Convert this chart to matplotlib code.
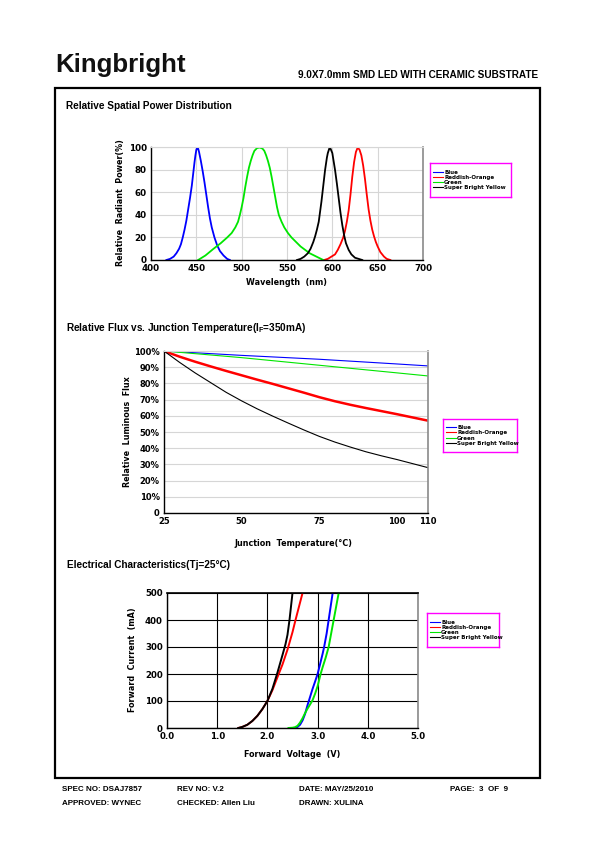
import matplotlib
matplotlib.use("Agg")
import matplotlib.pyplot as plt
from matplotlib.patches import Rectangle

W, H = 595, 842

# series (legend order)
series_names = ["Blue", "Reddish-Orange", "Green", "Super Bright Yellow"]
series_colors = ["#0000ff", "#ff0000", "#00e600", "#000000"]

# relative spatial power distribution: wavelength (nm) / relative power (%)
blue_wl = [417, 421, 425, 428, 431, 433, 435, 437, 439, 441, 443, 445, 446, 447, 448, 449, 450, 451,
           452, 453, 455, 457, 459, 461, 463, 465, 467, 470, 473, 476, 480, 484, 487]
blue_pw = [0, 1, 3, 6, 10, 14, 20, 27, 35, 45, 55, 66, 73, 80, 87, 93, 98, 100,
           99, 96, 88, 79, 69, 58, 47, 37, 29, 20, 13, 8, 4, 1, 0]
red_wl = [591, 595, 599, 603, 606, 609, 612, 614, 616, 618, 620, 622, 624, 626, 628,
          630, 632, 634, 636, 638, 640, 642, 644, 646, 648, 650, 653, 657, 660, 664]
red_pw = [0, 1, 3, 5, 9, 14, 20, 26, 34, 44, 58, 74, 87, 96, 100,
          98, 93, 84, 72, 58, 45, 35, 27, 21, 16, 12, 7, 3, 1, 0]
green_wl = [452, 460, 469, 477, 484, 489, 493, 496, 498, 500, 502, 504, 506, 508, 510, 512, 514, 517, 520,
            523, 525, 527, 529, 531, 533, 535, 537, 539, 541, 544, 547, 551, 555, 560, 565, 570, 575, 580, 585, 590]
green_pw = [0, 4, 10, 15, 20, 24, 29, 34, 40, 47, 55, 65, 74, 82, 88, 93, 97, 99.5, 100,
            99, 97, 93, 88, 82, 74, 65, 56, 47, 40, 34, 29, 24, 20, 16, 12, 9, 6, 4, 2, 0]
yellow_wl = [561, 565, 569, 573, 576, 579, 581, 583, 585, 586, 588, 590, 592, 594, 595, 597,
             598, 600, 601, 603, 605, 607, 609, 611, 613, 615, 618, 621, 625, 629, 633]
yellow_pw = [0, 1, 3, 6, 10, 16, 21, 27, 34, 40, 52, 66, 80, 91, 95, 100,
             99, 95, 90, 80, 68, 55, 42, 31, 22, 15, 9, 5, 2, 1, 0]

# relative flux vs junction temperature (deg C / %)
blue_tj = [25, 50, 75, 100, 110]
blue_flux = [100, 97.3, 94.9, 92.0, 90.8]
red_tj = [25, 30, 35, 40, 45, 50, 55, 60, 65, 70, 75, 80, 85, 90, 95, 100, 105, 110]
red_flux = [100, 96.5, 93.4, 90.5, 87.7, 85, 82.3, 79.7, 77, 74.3, 71.5, 69, 66.8, 64.8, 62.9, 61, 59, 57]
green_tj = [25, 50, 75, 100, 110]
green_flux = [100, 95.9, 91.2, 86.5, 84.6]
yellow_tj = [25, 30, 35, 40, 45, 50, 55, 60, 65, 70, 75, 80, 85, 90, 95, 100, 105, 110]
yellow_flux = [100, 93, 86.5, 80.5, 74.5, 69.2, 64.3, 59.8, 55.5, 51.3, 47.3, 43.8, 40.7, 37.8, 35.3, 33, 30.5, 28]

# forward current vs forward voltage (V / mA)
blue_vf = [2.55, 2.6, 2.65, 2.7, 2.75, 2.8, 2.85, 2.9, 2.95, 3.0, 3.05, 3.1, 3.13, 3.18, 3.22, 3.26, 3.30]
blue_if = [0, 4, 12, 28, 52, 85, 115, 145, 172, 200, 237, 275, 300, 350, 400, 450, 500]
red_vf = [1.42, 1.5, 1.6, 1.7, 1.8, 1.9, 2.0, 2.1, 2.2, 2.3, 2.4, 2.5, 2.56, 2.63, 2.70]
red_if = [0, 4, 12, 26, 45, 70, 100, 140, 188, 235, 290, 355, 400, 450, 500]
green_vf = [2.42, 2.5, 2.55, 2.6, 2.65, 2.7, 2.75, 2.8, 2.85, 2.9, 2.95, 3.0, 3.06, 3.1, 3.16, 3.22, 3.27, 3.32, 3.37, 3.42]
green_if = [0, 1, 3, 8, 20, 36, 55, 72, 87, 103, 127, 155, 200, 225, 260, 300, 350, 400, 450, 500]
yellow_vf = [1.42, 1.5, 1.6, 1.7, 1.8, 1.9, 2.0, 2.1, 2.2, 2.3, 2.36, 2.4, 2.44, 2.47, 2.50]
yellow_if = [0, 4, 12, 26, 45, 70, 100, 145, 205, 270, 310, 345, 400, 450, 500]

# ticks
wl_ticks = [400, 450, 500, 550, 600, 650, 700]
pw_ticks = [0, 20, 40, 60, 80, 100]
tj_ticks = [25, 50, 75, 100, 110]
flux_ticks = [0, 10, 20, 30, 40, 50, 60, 70, 80, 90, 100]
flux_ticklabels = ["0", "10%", "20%", "30%", "40%", "50%", "60%", "70%", "80%", "90%", "100%"]
vf_ticks = [0, 1, 2, 3, 4, 5]
vf_ticklabels = ["0.0", "1.0", "2.0", "3.0", "4.0", "5.0"]
if_ticks = [0, 100, 200, 300, 400, 500]

footer_rows = [
    [(62, "SPEC NO: DSAJ7857"), (177, "REV NO: V.2"), (299, "DATE: MAY/25/2010"), (450, "PAGE:  3  OF  9")],
    [(62, "APPROVED: WYNEC"), (177, "CHECKED: Allen Liu"), (299, "DRAWN: XULINA")],
]

chart_font = dict(family="DejaVu Sans", weight="bold")
head_font = dict(family="Liberation Sans", weight="bold")

fig = plt.figure(figsize=(W / 100, H / 100), dpi=100)


def px_axes(left, top, right, bottom):
    return fig.add_axes([left / W, 1 - bottom / H, (right - left) / W, (bottom - top) / H])


def px_text(x, y, s, **kw):
    return fig.text(x / W, 1 - y / H, s, **kw)


def style_axes(ax, size, grid_color, grid_axis="both", grid_lw=0.8):
    ax.tick_params(length=0, labelsize=size, pad=3)
    for lab in ax.get_xticklabels() + ax.get_yticklabels():
        lab.set_fontfamily(chart_font["family"])
        lab.set_fontweight("bold")
    ax.grid(True, axis=grid_axis, color=grid_color, lw=grid_lw)
    ax.set_axisbelow(True)
    for s in ("left", "bottom"):
        ax.spines[s].set_color("black")
        ax.spines[s].set_linewidth(1.0)
    ax.spines["right"].set_color("#8a8a8a")
    ax.spines["right"].set_linewidth(1.2)
    ax.spines["top"].set_color(grid_color)
    ax.spines["top"].set_linewidth(grid_lw)


def legend_box(ax, left, top, right, bottom, lw):
    lax = px_axes(left, top, right, bottom)
    lax.set_xticks([])
    lax.set_yticks([])
    for s in lax.spines.values():
        s.set_color("#ff00ff")
        s.set_linewidth(1.0)
    handles, labels = ax.get_legend_handles_labels()
    leg = lax.legend(handles, labels, loc="center left", frameon=False,
                     prop=dict(family="DejaVu Sans", weight="bold", size=4.0),
                     handlelength=1.8, handletextpad=0.15, labelspacing=0.05,
                     borderaxespad=0.2)
    for line in leg.get_lines():
        line.set_linewidth(lw)


# header
px_text(55, 72, "Kingbright", fontsize=18.6, color="#111111", **head_font)
px_text(538, 78, "9.0X7.0mm SMD LED WITH CERAMIC SUBSTRATE", fontsize=7.2, ha="right", **head_font)
fig.add_artist(Rectangle((55 / W, 1 - 778 / H), 485 / W, 690 / H, transform=fig.transFigure,
                         fill=False, ec="black", lw=1.6))

# section titles
px_text(66, 109, "Relative Spatial Power Distribution", fontsize=7.2, **head_font)
px_text(66, 331, r"Relative Flux vs. Junction Temperature(I$_\mathregular{F}$=350mA)", fontsize=7.2, **head_font)
px_text(67, 568, "Electrical Characteristics(Tj=25°C)", fontsize=7.2, **head_font)

# chart 1: spectrum
ax1 = px_axes(151, 147.5, 423, 260)
spec = [(blue_wl, blue_pw), (red_wl, red_pw), (green_wl, green_pw), (yellow_wl, yellow_pw)]
for (x, y), name, c in zip(spec, series_names, series_colors):
    ax1.plot(x, y, color=c, lw=1.3, label=name, solid_joinstyle="round")
ax1.set_xlim(400, 700)
ax1.set_ylim(0, 100)
ax1.set_xticks(wl_ticks)
ax1.set_yticks(pw_ticks)
style_axes(ax1, 6.3, "#d6d6d6")
px_text(287, 285, "Wavelength  (nm)", fontsize=5.8, ha="center", **chart_font)
px_text(120, 203, "Relative  Radiant  Power(%)", fontsize=5.8, rotation=90, ha="center", va="center", **chart_font)
legend_box(ax1, 430, 163, 511, 197, 0.8)

# chart 2: flux vs temperature
ax2 = px_axes(164, 351, 428, 513)
flux = [(blue_tj, blue_flux, 0.8), (red_tj, red_flux, 1.8), (green_tj, green_flux, 0.8), (yellow_tj, yellow_flux, 0.8)]
for (x, y, lw), name, c in zip(flux, series_names, series_colors):
    ax2.plot(x, y, color=c, lw=lw, label=name, solid_joinstyle="round")
ax2.set_xlim(25, 110)
ax2.set_ylim(0, 100)
ax2.set_xticks(tj_ticks)
ax2.set_yticks(flux_ticks)
ax2.set_yticklabels(flux_ticklabels)
style_axes(ax2, 6.0, "#d6d6d6", grid_axis="y")
px_text(293, 546, "Junction  Temperature(°C)", fontsize=5.8, ha="center", **chart_font)
px_text(127, 432, "Relative  Luminous  Flux", fontsize=5.8, rotation=90, ha="center", va="center", **chart_font)
legend_box(ax2, 443, 419, 517, 452, 0.8)

# chart 3: IV curves
ax3 = px_axes(167, 593, 418, 728)
iv = [(blue_vf, blue_if), (red_vf, red_if), (green_vf, green_if), (yellow_vf, yellow_if)]
for (x, y), name, c in zip(iv, series_names, series_colors):
    ax3.plot(x, y, color=c, lw=1.4, label=name, solid_joinstyle="round")
ax3.set_xlim(0, 5)
ax3.set_ylim(0, 500)
ax3.set_xticks(vf_ticks)
ax3.set_xticklabels(vf_ticklabels)
ax3.set_yticks(if_ticks)
style_axes(ax3, 6.2, "black", grid_lw=0.8)
ax3.spines["top"].set_linewidth(1.2)
px_text(292, 757, "Forward  Voltage  (V)", fontsize=5.8, ha="center", **chart_font)
px_text(133, 660, "Forward  Current  (mA)", fontsize=5.8, rotation=90, ha="center", va="center", **chart_font)
legend_box(ax3, 427, 613, 499, 647, 0.8)

# footer
for row_y, row in zip([791, 805], footer_rows):
    for x, s in row:
        px_text(x, row_y, s, fontsize=5.8, **head_font)

fig.savefig("out.png", dpi=100)
